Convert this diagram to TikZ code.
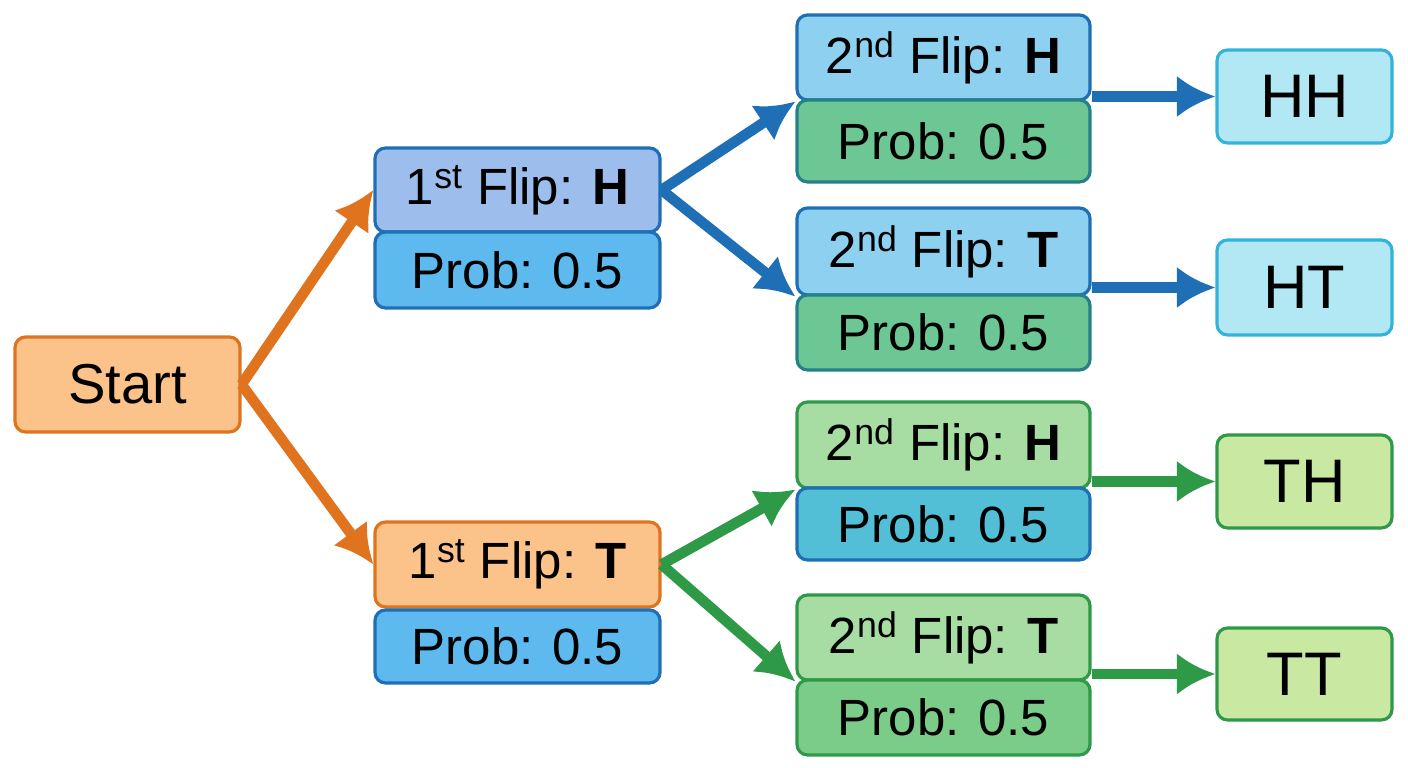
\documentclass[tikz,border=0pt]{standalone}
\usepackage{fontspec}
\setmainfont{Liberation Sans}
\usetikzlibrary{arrows.meta,positioning}

\definecolor{orgline}{HTML}{E0731E}
\definecolor{orgfill}{HTML}{FBC28A}
\definecolor{bluline}{HTML}{1E6FB5}
\definecolor{grnline}{HTML}{2E9A48}
\definecolor{cyanline}{HTML}{33B3DA}
\definecolor{lavfill}{HTML}{9DBEEC}
\definecolor{skyfill}{HTML}{5DB9EE}
\definecolor{pblfill}{HTML}{8ED0F0}
\definecolor{mintfill}{HTML}{6CC794}
\definecolor{leaffill}{HTML}{A7DCA2}
\definecolor{tealfill}{HTML}{52BFD6}
\definecolor{grnfill}{HTML}{7ACC88}
\definecolor{icefill}{HTML}{B2E8F3}
\definecolor{limefill}{HTML}{C9E8A2}

\tikzset{
  box/.style={draw,line width=1.8pt,rounded corners=6pt,inner sep=0pt,font=\fontsize{29}{31}\selectfont},
  flip/.style={box,minimum width=5.7cm},
  flipb/.style={box,minimum width=5.86cm},
  res/.style={box,minimum width=3.5cm,font=\fontsize{35}{37}\selectfont},
  arr/.style={line width=6pt,-{Latex[length=22pt,width=24pt]}}
}

\begin{document}
\begin{tikzpicture}
\useasboundingbox (0,0) rectangle (28.16,15.36);

\node[box,draw=orgline,fill=orgfill,minimum width=4.5cm,minimum height=1.9cm,font=\fontsize{32}{34}\selectfont] (start) at (2.55,7.67) {Start};

\node[flip,draw=bluline,fill=lavfill,minimum height=1.68cm] (fh) at (10.35,11.56) {1\textsuperscript{st} Flip: \textbf{H}};
\node[flip,draw=bluline,fill=skyfill,minimum height=1.52cm] (fhp) at (10.35,9.96) {Prob: 0.5};
\node[flip,draw=orgline,fill=orgfill,minimum height=1.7cm] (ft) at (10.35,4.07) {1\textsuperscript{st} Flip: \textbf{T}};
\node[flip,draw=bluline,fill=skyfill,minimum height=1.46cm] (ftp) at (10.35,2.43) {Prob: 0.5};

\node[flipb,draw=bluline,fill=pblfill,minimum height=1.7cm] (hh) at (18.87,14.21) {2\textsuperscript{nd} Flip: \textbf{H}};
\node[flipb,draw=bluline!60!grnline,fill=mintfill,minimum height=1.64cm] (hhp) at (18.87,12.54) {Prob: 0.5};
\node[flipb,draw=bluline,fill=pblfill,minimum height=1.74cm] (ht) at (18.87,10.33) {2\textsuperscript{nd} Flip: \textbf{T}};
\node[flipb,draw=bluline!60!grnline,fill=mintfill,minimum height=1.5cm] (htp) at (18.87,8.71) {Prob: 0.5};
\node[flipb,draw=grnline,fill=leaffill,minimum height=1.72cm] (th) at (18.87,6.46) {2\textsuperscript{nd} Flip: \textbf{H}};
\node[flipb,draw=bluline,fill=tealfill,minimum height=1.44cm] (thp) at (18.87,4.88) {Prob: 0.5};
\node[flipb,draw=grnline,fill=leaffill,minimum height=1.7cm] (tt) at (18.87,2.61) {2\textsuperscript{nd} Flip: \textbf{T}};
\node[flipb,draw=grnline,fill=grnfill,minimum height=1.5cm] (ttp) at (18.87,1.01) {Prob: 0.5};

\node[res,draw=cyanline,fill=icefill,minimum height=1.86cm] (rhh) at (26.09,13.43) {HH};
\node[res,draw=cyanline,fill=icefill,minimum height=1.9cm] (rht) at (26.09,9.61) {HT};
\node[res,draw=grnline,fill=limefill,minimum height=1.86cm] (rth) at (26.09,5.73) {TH};
\node[res,draw=grnline,fill=limefill,minimum height=1.84cm] (rtt) at (26.09,1.88) {TT};

\draw[arr,orgline] (start.east) -- (fh.west);
\draw[arr,orgline] (start.east) -- (ft.west);
\draw[arr,bluline] (fh.east) -- (hh.south west);
\draw[arr,bluline] (fh.east) -- (ht.south west);
\draw[arr,grnline] (ft.east) -- (th.south west);
\draw[arr,grnline] (ft.east) -- (tt.south west);

\draw[arr,bluline] (hh.east |- rhh) -- (rhh.west);
\draw[arr,bluline] (ht.east |- rht) -- (rht.west);
\draw[arr,grnline] (th.east |- rth) -- (rth.west);
\draw[arr,grnline] (tt.east |- rtt) -- (rtt.west);

\end{tikzpicture}
\end{document}
